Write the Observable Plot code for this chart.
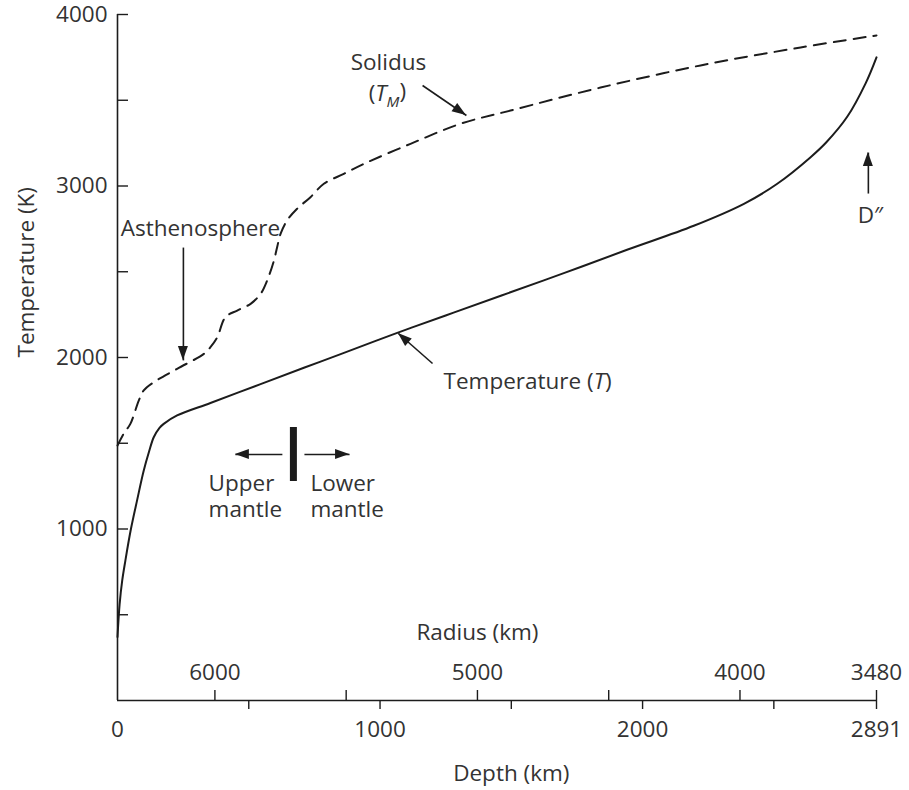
<!DOCTYPE html>
<html><head><meta charset="utf-8">
<script src="https://cdn.jsdelivr.net/npm/d3@7"></script>
<script src="https://cdn.jsdelivr.net/npm/@observablehq/plot@0.6"></script>
<style>body{margin:0;background:#fff;} svg{display:block}</style>
</head><body><div id="chart"></div>
<script>
// Mantle temperature (solid) — depth (km), temperature (K)
const tempDepth = [0, 8, 18, 30, 50, 75, 100, 120, 138, 160, 176, 227, 354, 545, 710, 850, 1050, 1250, 1460, 1700, 1941, 2195, 2386, 2513, 2640, 2700, 2780, 2850, 2891];
const tempK     = [370, 560, 700, 816, 991, 1170, 1341, 1450, 1535, 1590, 1613, 1662, 1735, 1845, 1940, 2020, 2135, 2245, 2360, 2492, 2628, 2768, 2896, 3013, 3168, 3255, 3405, 3600, 3750];
// Solidus (dashed)
const solDepth = [0, 25, 49, 81, 100, 138, 227, 329, 354, 380, 411, 456, 507, 545, 570, 596, 608, 621, 646, 684, 735, 786, 862, 938, 1116, 1307, 1497, 1840, 2221, 2602, 2891];
const solK     = [1487, 1560, 1613, 1749, 1808, 1856, 1934, 2021, 2060, 2118, 2235, 2274, 2313, 2371, 2449, 2566, 2643, 2721, 2799, 2867, 2935, 3013, 3071, 3129, 3246, 3363, 3440, 3574, 3703, 3808, 3878];

const earthRadius = 6371;
const yTickValues = [500, 1000, 1500, 2000, 2500, 3000, 3500, 4000];
const yTickLabels = [1000, 2000, 3000, 4000];
const depthTickValues = [500, 1000, 1500, 2000, 2500, 2891];
const depthTickLabels = [0, 1000, 2000, 2891];
const radiusTickValues = [6000, 5500, 5000, 4500, 4000, 3480];
const radiusTickLabels = [6000, 5000, 4000, 3480];

// centred annotations
const noteText  = ["Solidus", "(TM)", "Asthenosphere", "D″"];
const noteDepth = [1032, 1028, 316, 2868];
const noteK     = [3718, 3535, 2752, 2828];
// left-aligned annotations
const leftText  = ["Temperature (T)", "Upper\nmantle", "Lower\nmantle"];
const leftDepth = [1242, 347, 735];
const leftK     = [1866, 1195, 1195];

// arrows: tail -> tip
const arrowTailDepth = [1162, 251, 1200, 2860, 628, 712];
const arrowTailK     = [3586, 2641, 1965, 2956, 1434, 1434];
const arrowTipDepth  = [1329, 251, 1070, 2860, 449, 884];
const arrowTipK      = [3411, 1983, 2140, 3195, 1434, 1434];

// upper/lower mantle boundary bar
const boundaryDepth = [670];
const boundaryK = [1277, 1592];

const FONT = "Open Sans";
const FS = 22.5;
const INK = "#1c1c1c";
const TXT = "#333";

const tempData = tempDepth.map((d, i) => ({depth: d, k: tempK[i]}));
const solData = solDepth.map((d, i) => ({depth: d, k: solK[i]}));
const noteData = noteText.map((t, i) => ({t, depth: noteDepth[i], k: noteK[i]}));
const leftData = leftText.map((t, i) => ({t, depth: leftDepth[i], k: leftK[i]}));
const arrowData = arrowTailDepth.map((d, i) => ({x1: d, y1: arrowTailK[i], x2: arrowTipDepth[i], y2: arrowTipK[i]}));

function arrowHeads(index, scales, values, dimensions, context) {
  const doc = (context && context.document) || document;
  const ns = "http://www.w3.org/2000/svg";
  const g = doc.createElementNS(ns, "g");
  const L = 14, W = 5;
  for (const a of arrowData) {
    const x1 = scales.x(a.x1), y1 = scales.y(a.y1), x2 = scales.x(a.x2), y2 = scales.y(a.y2);
    const ang = Math.atan2(y2 - y1, x2 - x1);
    const c = Math.cos(ang), s = Math.sin(ang);
    const bx = x2 - L * c, by = y2 - L * s;
    const p = doc.createElementNS(ns, "polygon");
    p.setAttribute("points", `${x2},${y2} ${bx - W * s},${by + W * c} ${bx + W * s},${by - W * c}`);
    p.setAttribute("fill", INK);
    g.appendChild(p);
  }
  return g;
}

const chart = Plot.plot({
  width: 909,
  height: 790,
  marginLeft: 117,
  marginRight: 33,
  marginTop: 14,
  marginBottom: 90,
  style: {fontFamily: FONT, fontSize: FS + "px", color: TXT, background: "#fff", overflow: "visible"},
  x: {domain: [0, 2891]},
  y: {domain: [0, 4000]},
  marks: [
    // axes lines
    Plot.ruleX([0], {stroke: INK, strokeWidth: 1.6}),
    Plot.ruleY([0], {stroke: INK, strokeWidth: 1.6}),
    // y ticks (inward) and labels
    Plot.axisY(yTickValues, {tickSize: -11, tickFormat: () => "", label: null, stroke: INK, strokeWidth: 1.4}),
    Plot.axisY(yTickLabels, {tickSize: 0, tickPadding: 10, label: null, fontSize: FS, fill: TXT, tickFormat: d => String(d)}),
    // depth ticks below & labels
    Plot.axisX(depthTickValues, {anchor: "bottom", tickSize: 9, tickFormat: () => "", label: null, stroke: INK, strokeWidth: 1.4}),
    Plot.axisX(depthTickLabels, {anchor: "bottom", tickSize: 0, tickPadding: 21, label: null, fontSize: FS, fill: TXT, tickFormat: d => String(d)}),
    // radius ticks above
    Plot.axisX(radiusTickValues.map(r => earthRadius - r), {anchor: "bottom", tickSize: -10, tickFormat: () => "", label: null, stroke: INK, strokeWidth: 1.4}),
    Plot.text(radiusTickLabels, {x: r => earthRadius - r, text: r => String(r), frameAnchor: "bottom", lineAnchor: "middle", dy: -28, fontSize: FS, fill: TXT}),
    // axis titles
    Plot.text(["Radius (km)"], {x: [earthRadius - 5000], text: d => d, frameAnchor: "bottom", lineAnchor: "middle", dy: -68, fontSize: FS, fill: TXT}),
    Plot.text(["Depth (km)"], {x: [1500], text: d => d, frameAnchor: "bottom", lineAnchor: "middle", dy: 73, fontSize: FS, fill: TXT}),
    Plot.text(["Temperature (K)"], {y: [2000], text: d => d, frameAnchor: "left", rotate: -90, dx: -91, lineAnchor: "middle", fontSize: FS, fill: TXT}),
    // curves
    Plot.line(solData, {x: "depth", y: "k", stroke: INK, strokeWidth: 2, strokeDasharray: "12,8", curve: "catmull-rom"}),
    Plot.line(tempData, {x: "depth", y: "k", stroke: INK, strokeWidth: 2, curve: "catmull-rom"}),
    // boundary bar
    Plot.ruleX(boundaryDepth, {y1: boundaryK[0], y2: boundaryK[1], stroke: INK, strokeWidth: 7}),
    // arrows
    Plot.link(arrowData, {x1: "x1", y1: "y1", x2: "x2", y2: "y2", stroke: INK, strokeWidth: 1.6}),
    arrowHeads,
    // annotations
    Plot.text(noteData, {x: "depth", y: "k", text: "t", textAnchor: "middle", lineAnchor: "middle", fontSize: FS, fill: TXT}),
    Plot.text(leftData, {x: "depth", y: "k", text: "t", textAnchor: "start", lineAnchor: "middle", lineHeight: 1.18, fontSize: FS, fill: TXT})
  ]
});

// italic symbols
chart.querySelectorAll("text").forEach(t => {
  if (t.textContent === "Temperature (T)") {
    t.innerHTML = 'Temperature (<tspan font-style="italic">T</tspan>)';
  } else if (t.textContent === "(TM)") {
    t.innerHTML = '(<tspan font-style="italic">T</tspan><tspan font-style="italic" font-size="0.68em" dy="0.35em">M</tspan><tspan dy="-0.35em">)</tspan>';
  }
});

document.getElementById("chart").appendChild(chart);
</script>
</body></html>
